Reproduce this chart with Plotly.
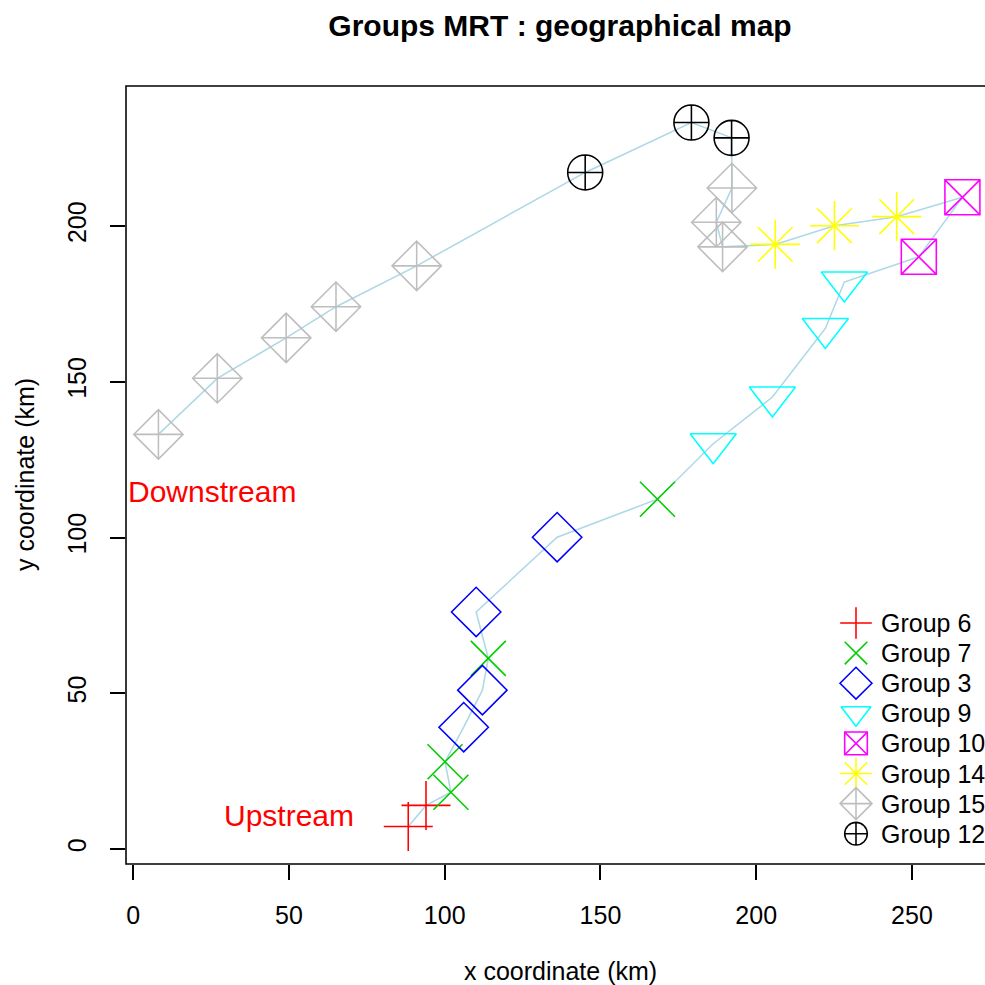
import plotly.graph_objects as go

# ---------------- data ----------------
# sites along the river, from upstream to downstream
site_x = [88.3, 94.0, 102.0, 100.1, 106.1, 112.1, 114.0, 110.1, 136.1, 168.3,
          186.2, 205.2, 222.2, 228.3, 252.2, 266.2, 245.1, 225.1, 206.1, 189.2,
          187.2, 192.2, 192.1, 179.2, 145.1, 91.0, 65.1, 49.1, 27.0, 8.1]
site_y = [7.2, 14.0, 18.2, 28.0, 39.1, 51.0, 61.2, 76.1, 100.1, 112.3,
          130.1, 145.1, 167.1, 182.0, 190.1, 209.2, 203.0, 200.1, 194.1, 193.3,
          201.2, 212.2, 228.3, 233.2, 217.2, 187.2, 174.1, 164.1, 151.1, 133.1]
site_group = [6, 6, 7, 7, 3, 3, 7, 3, 3, 7,
              9, 9, 9, 9, 10, 10, 14, 14, 14, 15,
              15, 15, 12, 12, 12, 15, 15, 15, 15, 15]

legend_groups = [6, 7, 3, 9, 10, 14, 15, 12]
legend_labels = ["Group 6", "Group 7", "Group 3", "Group 9",
                 "Group 10", "Group 14", "Group 15", "Group 12"]

x_ticks = [0, 50, 100, 150, 200, 250]
y_ticks = [0, 50, 100, 150, 200]

label_text = ["Downstream", "Upstream"]
label_x = [25.3, 50.0]
label_y = [114.9, 10.6]

# ---------------- styles ----------------
group_color = {6: "#FF0000", 7: "#00CD00", 3: "#0000FF", 9: "#00FFFF",
               10: "#FF00FF", 14: "#FFFF00", 15: "#BEBEBE", 12: "#000000"}
group_symbol = {6: "cross-thin-open", 7: "x-thin-open", 3: "diamond-open",
                9: "triangle-down-open", 10: "square-x-open", 14: "asterisk-open",
                15: "diamond-cross-open", 12: "circle-cross-open"}
group_size = {6: 35, 7: 35, 3: 38, 9: 40, 10: 35, 14: 41, 15: 38, 12: 35}
LEG_SCALE = 0.646
LW = 1.56
FONT = "Liberation Sans"

W, H = 985, 985
ML, MR, MT, MB = 126, 0, 86, 121
PW, PH = W - ML - MR, H - MT - MB


def paper_x(p):
    return (p - ML) / PW


def paper_y(p):
    return (H - MB - p) / PH


fig = go.Figure()

# river line
fig.add_trace(go.Scatter(x=site_x, y=site_y, mode="lines",
                         line=dict(color="#ADD8E6", width=LW),
                         showlegend=False, hoverinfo="skip"))

# group markers
for g in legend_groups:
    xs = [x for x, gg in zip(site_x, site_group) if gg == g]
    ys = [y for y, gg in zip(site_y, site_group) if gg == g]
    fig.add_trace(go.Scatter(
        x=xs, y=ys, mode="markers", showlegend=False,
        marker=dict(symbol=group_symbol[g], size=group_size[g],
                    color=group_color[g],
                    line=dict(color=group_color[g], width=LW))))

# custom legend (pixel-like overlay axes)
LEG_X, LEG_TOP, LEG_STEP, LEG_TEXT_X = 856, 623, 30.1, 879
for i, (g, lab) in enumerate(zip(legend_groups, legend_labels)):
    fig.add_trace(go.Scatter(
        x=[LEG_X], y=[LEG_TOP + i * LEG_STEP], xaxis="x2", yaxis="y2",
        mode="markers", showlegend=False, hoverinfo="skip",
        marker=dict(symbol=group_symbol[g], size=group_size[g] * LEG_SCALE,
                    color=group_color[g],
                    line=dict(color=group_color[g], width=LW))))
    fig.add_annotation(x=paper_x(LEG_TEXT_X), y=paper_y(LEG_TOP + i * LEG_STEP),
                       xref="paper", yref="paper", text=lab, showarrow=False,
                       xanchor="left", yanchor="middle",
                       font=dict(family=FONT, size=25, color="black"))

# Downstream / Upstream labels
for t, lx, ly in zip(label_text, label_x, label_y):
    fig.add_annotation(x=lx, y=ly, xref="x", yref="y", text=t, showarrow=False,
                       xanchor="center", yanchor="middle",
                       font=dict(family=FONT, size=30, color="#FF0000"))

# axis titles
fig.add_annotation(x=paper_x(560), y=paper_y(971), xref="paper", yref="paper",
                   text="x coordinate (km)", showarrow=False,
                   xanchor="center", yanchor="middle",
                   font=dict(family=FONT, size=25, color="black"))
fig.add_annotation(x=paper_x(25), y=0.5, xref="paper", yref="paper",
                   text="y coordinate (km)", showarrow=False, textangle=-90,
                   xanchor="center", yanchor="middle",
                   font=dict(family=FONT, size=25, color="black"))

# plot box (right edge falls outside the picture)
fig.add_shape(type="rect", xref="paper", yref="paper", x0=0, x1=1.05, y0=0, y1=1,
              line=dict(color="black", width=LW), layer="above")

fig.update_layout(
    width=W, height=H,
    margin=dict(l=ML, r=MR, t=MT, b=MB, pad=0),
    paper_bgcolor="white", plot_bgcolor="white",
    title=dict(text="Groups MRT : geographical map", x=560 / W, xref="container",
               xanchor="center", y=1 - 25 / H, yref="container", yanchor="middle",
               font=dict(family=FONT, size=30, color="black", weight="bold")),
    xaxis=dict(range=[(ML - 133.2) / 3.115, (W - MR - 133.2) / 3.115],
               tickvals=x_ticks, ticktext=[str(v) for v in x_ticks],
               ticks="outside", ticklen=15, tickwidth=LW, tickcolor="black",
               showgrid=False, zeroline=False, showline=False,
               tickfont=dict(family=FONT, size=25, color="black"),
               ticklabelstandoff=14),
    yaxis=dict(range=[(849 - (H - MB)) / 3.115, (849 - MT) / 3.115],
               tickvals=y_ticks, ticktext=[str(v) for v in y_ticks],
               ticks="outside", ticklen=15, tickwidth=LW, tickcolor="black",
               showgrid=False, zeroline=False, showline=False, tickangle=-90,
               tickfont=dict(family=FONT, size=25, color="black"),
               ticklabelstandoff=14),
    xaxis2=dict(range=[ML, W - MR], overlaying="x", anchor="y2", visible=False,
                showgrid=False, zeroline=False),
    yaxis2=dict(range=[H - MB, MT], overlaying="y", anchor="x2", visible=False,
                showgrid=False, zeroline=False),
    showlegend=False,
)

fig.write_html("out.html", config={"displayModeBar": False})
